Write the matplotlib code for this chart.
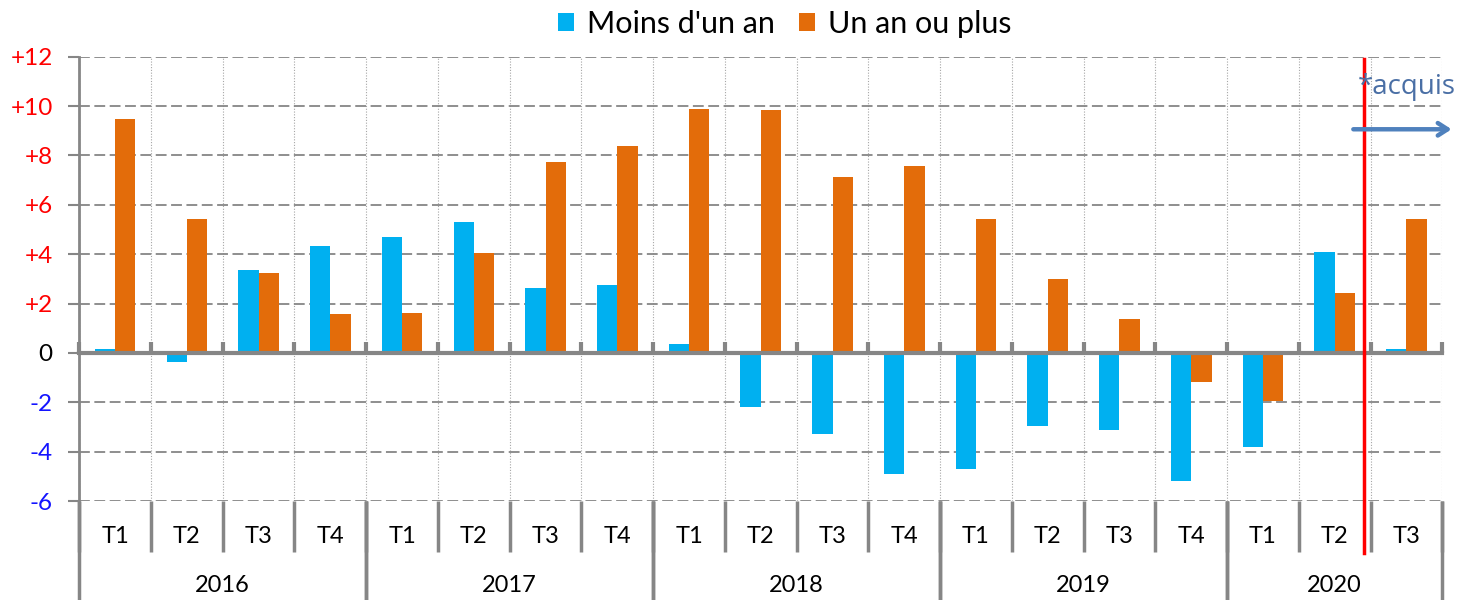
import matplotlib
matplotlib.use("Agg")
import matplotlib.pyplot as plt
import numpy as np

plt.rcParams["font.family"] = ["Lato", "DejaVu Sans"]

# data
years = ["2016", "2017", "2018", "2019", "2020"]
quarters_per_year = [4, 4, 4, 4, 3]
quarter_labels = ["T1", "T2", "T3", "T4"] * 4 + ["T1", "T2", "T3"]
moins_un_an = [0.15, -0.37, 3.36, 4.32, 4.70, 5.32, 2.63, 2.74, 0.36, -2.18,
               -3.27, -4.91, -4.72, -2.95, -3.12, -5.19, -3.81, 4.09, 0.15]
un_an_ou_plus = [9.48, 5.44, 3.24, 1.56, 1.60, 4.06, 7.75, 8.38, 9.87, 9.84,
                 7.14, 7.56, 5.41, 2.99, 1.37, -1.19, -1.94, 2.41, 5.41]
y_ticks = [12, 10, 8, 6, 4, 2, 0, -2, -4, -6]
acquis_start = 17.91  # position of the red "acquis" separator (in quarters)

BLUE = "#00b0f0"
ORANGE = "#e36c0a"
GREY = "#868686"

fig = plt.figure(figsize=(14.57, 6.0), dpi=100)
ax = fig.add_axes([0.0544, 0.165, 0.9355, 0.7405])

n = len(quarter_labels)
x = np.arange(n) + 0.5
w = 0.283
ax.bar(x - w / 2, moins_un_an, width=w, color=BLUE, label="Moins d'un an", zorder=3)
ax.bar(x + w / 2, un_an_ou_plus, width=w, color=ORANGE, label="Un an ou plus", zorder=3)

ax.set_xlim(0, n)
ax.set_ylim(-6, 12)

# axes styling
for s in ("top", "right"):
    ax.spines[s].set_visible(False)
ax.spines["bottom"].set_position(("data", 0))
ax.spines["bottom"].set_color(GREY)
ax.spines["bottom"].set_linewidth(3)
ax.spines["bottom"].set_zorder(4)
ax.spines["left"].set_color(GREY)
ax.spines["left"].set_linewidth(2)

ax.set_xticks(np.arange(n + 1))
ax.tick_params(axis="x", direction="in", length=8, width=3, color=GREY,
               labelbottom=False)
ax.set_yticks(y_ticks)
ax.set_yticklabels([("+%d" % v) if v > 0 else str(v) for v in y_ticks])
ax.tick_params(axis="y", direction="out", length=8, width=1.5, color=GREY,
               labelsize=17.5, pad=11)
for lab, v in zip(ax.get_yticklabels(), y_ticks):
    lab.set_color("#ff0000" if v > 0 else ("black" if v == 0 else "#1414ff"))

ax.grid(axis="y", color=GREY, linewidth=1.3, linestyle=(0, (6, 2.5)), zorder=1)
ax.grid(axis="x", color="#a6a6a6", linewidth=0.8, linestyle=(0, (1, 1.5)), zorder=1)

# multi-level category axis below the plot
trans = ax.get_xaxis_transform()
q_bottom = -0.1148
y_bottom = -0.2228
for i, q in enumerate(quarter_labels):
    ax.text(i + 0.5, -0.081, q, transform=trans, ha="center", va="center",
            fontsize=17)
for b in range(n + 1):
    ax.plot([b, b], [0, q_bottom], transform=trans, color=GREY, lw=2.5,
            clip_on=False, solid_capstyle="butt")
start = 0
for yr, k in zip(years, quarters_per_year):
    ax.text(start + k / 2, -0.19, yr, transform=trans, ha="center",
            va="center", fontsize=17)
    for b in (start, start + k):
        ax.plot([b, b], [0, y_bottom], transform=trans, color=GREY, lw=2.5,
                clip_on=False, solid_capstyle="butt")
    start += k

# red separator and "acquis" annotation
ax.plot([acquis_start, acquis_start], [0.995, -0.117], transform=trans,
        color="#ff0000", lw=2.5, clip_on=False, zorder=5)
ax.text(17.82, 10.77, "*acquis", color="#4a6fa5", fontsize=20,
        family="Open Sans", ha="left", va="center", zorder=6)
ax.annotate("", xy=(19.13, 9.06), xytext=(17.76, 9.06),
            arrowprops=dict(arrowstyle="->,head_length=0.7,head_width=0.45",
                            lw=3.2, color="#4f81bd", shrinkA=0, shrinkB=0),
            annotation_clip=False, zorder=6)

fig.legend(loc="center", bbox_to_anchor=(785 / 1457, 1 - 24 / 600), ncol=2,
           frameon=False, fontsize=22, handlelength=0.52, handleheight=0.52,
           handletextpad=0.42, columnspacing=0.8)

fig.savefig("out.png", dpi=100)
